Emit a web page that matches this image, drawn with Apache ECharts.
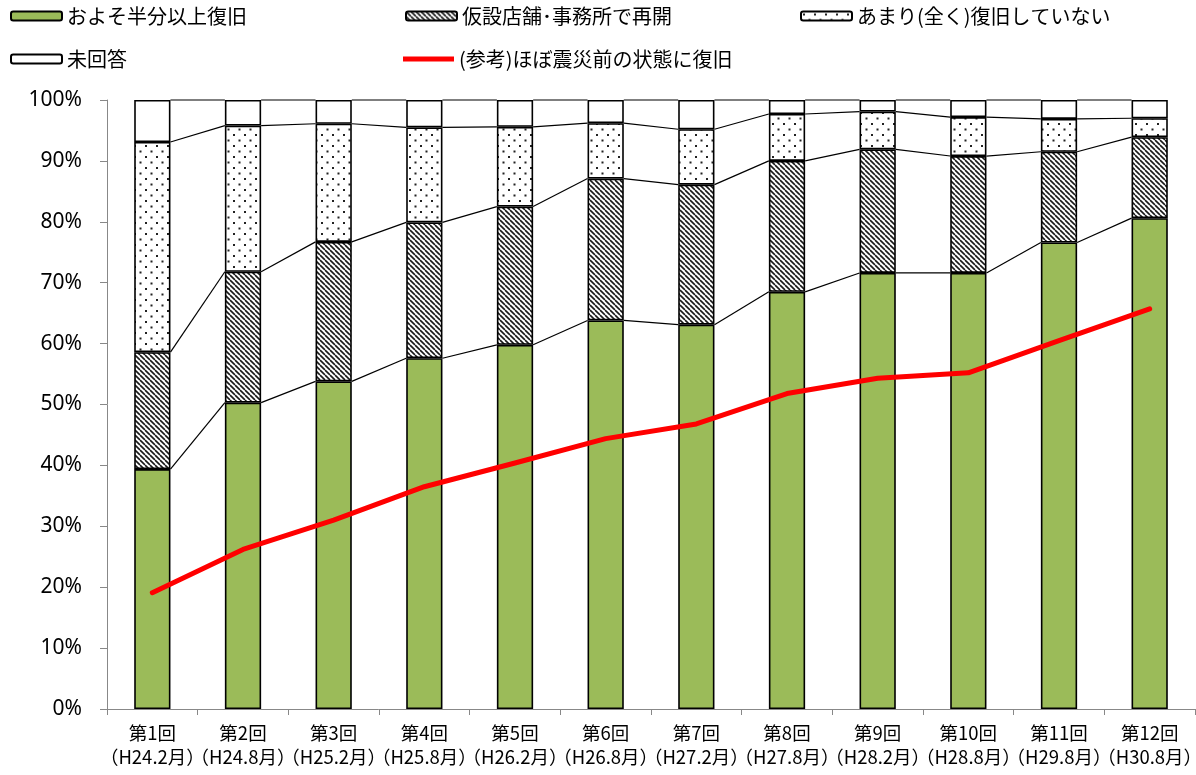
<!DOCTYPE html>
<html>
<head>
<meta charset="utf-8">
<script src="https://cdn.jsdelivr.net/npm/echarts@6/dist/echarts.min.js"></script>
<style>
  html, body { margin: 0; padding: 0; background: #fff; }
  #chart { width: 1196px; height: 775px; }
</style>
</head>
<body>
<div id="chart"></div>
<script>
// Survey rounds (category axis)
const rounds = ['第1回', '第2回', '第3回', '第4回', '第5回', '第6回', '第7回', '第8回', '第9回', '第10回', '第11回', '第12回'];
const periods = ['（H24.2月）', '（H24.8月）', '（H25.2月）', '（H25.8月）', '（H26.2月）', '（H26.8月）', '（H27.2月）', '（H27.8月）', '（H28.2月）', '（H28.8月）', '（H29.8月）', '（H30.8月）'];

// Shares of respondents (%)
const halfRecovered   = [39.4, 50.3, 53.8, 57.6, 59.8, 63.8, 63.1, 68.5, 71.6, 71.6, 76.6, 80.6];
const temporaryReopen = [19.2, 21.5, 22.9, 22.3, 22.7, 23.3, 23.0, 21.5, 20.3, 19.2, 14.9, 13.3];
const notRecovered    = [34.5, 24.0, 19.4, 15.6, 13.1,  9.1,  9.1,  7.7,  6.2,  6.4,  5.4,  3.1];
const noAnswer        = [ 6.9,  4.2,  3.9,  4.5,  4.4,  3.8,  4.8,  2.3,  1.9,  2.8,  3.1,  3.0];
// Reference line: almost fully back to pre-disaster state (%)
const fullyRecovered  = [19.1, 26.2, 31.0, 36.5, 40.4, 44.4, 46.8, 51.8, 54.3, 55.2, 60.5, 65.7];

const yTicks = { min: 0, max: 100, interval: 10 };

const names = ['およそ半分以上復旧', '仮設店舗･事務所で再開', 'あまり(全く)復旧していない', '未回答', '(参考)ほぼ震災前の状態に復旧'];

// Fill patterns
function hatchPattern() {
  const s = 5;
  const c = document.createElement('canvas');
  c.width = s; c.height = s;
  const g = c.getContext('2d');
  g.fillStyle = '#fff';
  g.fillRect(0, 0, s, s);
  g.strokeStyle = '#1a1a1a';
  g.lineWidth = 1.6;
  for (const k of [-s, 0, s]) {
    g.beginPath();
    g.moveTo(k, 0);
    g.lineTo(k + s, s);
    g.stroke();
  }
  return { image: c, repeat: 'repeat' };
}
function dotPattern() {
  const s = 11;
  const c = document.createElement('canvas');
  c.width = s; c.height = s;
  const g = c.getContext('2d');
  g.fillStyle = '#fff';
  g.fillRect(0, 0, s, s);
  g.fillStyle = '#222';
  g.fillRect(2, 2, 2, 2);
  g.fillRect(7.5, 7.5, 2, 2);
  return { image: c, repeat: 'repeat' };
}

// Cumulative boundaries used for the connector lines between bars
const cum1 = halfRecovered.slice();
const cum2 = cum1.map((v, i) => v + temporaryReopen[i]);
const cum3 = cum2.map((v, i) => v + notRecovered[i]);
const cum4 = cum3.map((v, i) => v + noAnswer[i]);
const connectorData = [];
for (let i = 0; i < rounds.length - 1; i++) {
  connectorData.push([i, cum1[i], cum1[i + 1], cum2[i], cum2[i + 1], cum3[i], cum3[i + 1], cum4[i], cum4[i + 1]]);
}

const BAR_RATIO = 0.4;
const barStyle = (color) => ({ color: color, borderColor: '#000', borderWidth: 1.6 });

const chart = echarts.init(document.getElementById('chart'), null, { renderer: 'canvas' });

const legendText = { fontFamily: 'Noto Sans CJK JP', fontSize: 20, color: '#000' };
function legendAt(name, left, top, extra) {
  return Object.assign({
    data: [name],
    left: left, top: top,
    itemWidth: 51, itemHeight: 9,
    itemGap: 0,
    textStyle: legendText,
    selectedMode: false,
    padding: 0
  }, extra || {});
}

const option = {
  animation: false,
  legend: [
    legendAt(names[0], 10, 6),
    legendAt(names[1], 405, 6),
    legendAt(names[2], 800, 6),
    legendAt(names[3], 10, 49),
    legendAt(names[4], 403, 49, { icon: 'rect', itemHeight: 5 })
  ],
  grid: { left: 107, right: 1, top: 100, bottom: 66, containLabel: false, outerBoundsMode: 'none' },
  xAxis: {
    type: 'category',
    data: rounds,
    axisLine: { lineStyle: { color: '#888', width: 1 } },
    axisTick: { show: true, length: 6, lineStyle: { color: '#888' } },
    axisLabel: {
      interval: 0,
      margin: 12,
      color: '#000',
      fontFamily: 'Noto Sans CJK JP',
      fontSize: 18.5,
      lineHeight: 24,
      formatter: (v, i) => v + '\n' + periods[i]
    }
  },
  yAxis: {
    type: 'value',
    min: yTicks.min, max: yTicks.max, interval: yTicks.interval,
    axisLine: { show: true, lineStyle: { color: '#888', width: 1 } },
    axisTick: { show: true, length: 7, lineStyle: { color: '#888' } },
    splitLine: { show: false },
    axisLabel: {
      margin: 25,
      color: '#000',
      fontFamily: 'Noto Sans',
      fontSize: 21,
      formatter: '{value}%'
    }
  },
  series: [
    { name: names[0], type: 'bar', stack: 'all', barWidth: '40%', data: halfRecovered, itemStyle: barStyle('#9BBB59'), z: 2 },
    { name: names[1], type: 'bar', stack: 'all', barWidth: '40%', data: temporaryReopen, itemStyle: barStyle(hatchPattern()), z: 2 },
    { name: names[2], type: 'bar', stack: 'all', barWidth: '40%', data: notRecovered, itemStyle: barStyle(dotPattern()), z: 2 },
    { name: names[3], type: 'bar', stack: 'all', barWidth: '40%', data: noAnswer, itemStyle: barStyle('#fff'), z: 2 },
    {
      type: 'custom',
      silent: true,
      z: 3,
      data: connectorData,
      renderItem: function (params, api) {
        const i = api.value(0);
        const half = api.size([1, 0])[0] * BAR_RATIO / 2;
        const children = [];
        for (let k = 0; k < 4; k++) {
          const a = api.coord([i, api.value(1 + 2 * k)]);
          const b = api.coord([i + 1, api.value(2 + 2 * k)]);
          children.push({
            type: 'line',
            shape: { x1: a[0] + half, y1: a[1], x2: b[0] - half, y2: b[1] },
            style: { stroke: '#000', lineWidth: 1.2 }
          });
        }
        return { type: 'group', children: children };
      }
    },
    {
      name: names[4],
      type: 'line',
      data: fullyRecovered,
      showSymbol: false,
      symbol: 'none',
      z: 5,
      itemStyle: { color: '#FF0000' },
      lineStyle: { color: '#FF0000', width: 5, cap: 'round', join: 'round' }
    }
  ]
};

chart.setOption(option);
</script>
</body>
</html>
